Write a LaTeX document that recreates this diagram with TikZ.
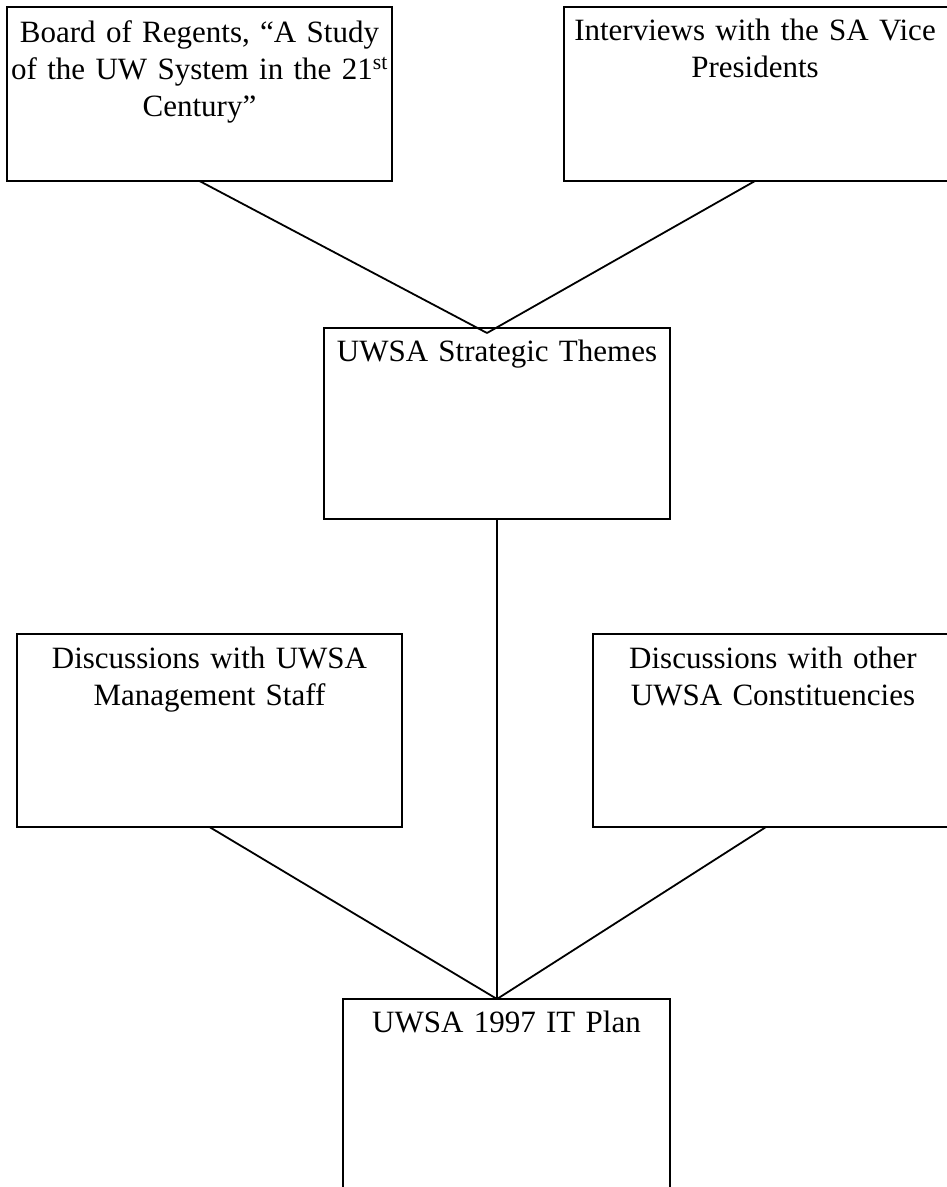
\documentclass[tikz,border=0pt]{standalone}
\usepackage{fontspec}
\setmainfont{Liberation Serif}
\hyphenpenalty=10000
\exhyphenpenalty=10000
\begin{document}
\begin{tikzpicture}[x=1pt,y=-1pt,
  box/.style={draw=black,line width=2pt,rectangle,inner sep=0pt,outer sep=0pt},
  lbl/.style={anchor=base,inner sep=0pt,align=center,text width=440pt,
    font=\fontsize{31}{37}\selectfont},
  link/.style={draw=black,line width=1.8pt}]
\useasboundingbox (0,0) rectangle (947,1187);
\clip (0,0) rectangle (947,1187);
% boxes
\node[box,minimum width=385pt,minimum height=174pt] (b1) at (199.5,94) {};
\node[box,minimum width=386pt,minimum height=174pt] (b2) at (757,94) {};
\node[box,minimum width=346pt,minimum height=191pt] (b3) at (497,423.5) {};
\node[box,minimum width=385pt,minimum height=193pt] (b4) at (209.5,730.5) {};
\node[box,minimum width=360pt,minimum height=193pt] (b5) at (773,730.5) {};
\node[box,minimum width=327pt,minimum height=201pt] (b6) at (506.5,1099.5) {};
% labels
\node[lbl] (t1) at ([yshift=-35pt]b1.north) {Board of Regents, “A Study\\of the UW System in the 21\textsuperscript{st}\\Century”};
\node[lbl] (t2) at ([yshift=-33pt,xshift=-2pt]b2.north) {Interviews with the SA Vice\\Presidents};
\node[lbl] (t3) at ([yshift=-33pt]b3.north) {UWSA Strategic Themes};
\node[lbl] (t4) at ([yshift=-34pt]b4.north) {Discussions with UWSA\\Management Staff};
\node[lbl] (t5) at ([yshift=-34pt]b5.north) {Discussions with other\\UWSA Constituencies};
\node[lbl] (t6) at ([yshift=-33pt]b6.north) {UWSA 1997 IT Plan};
% junctions
\coordinate (j1) at ([xshift=-10pt,yshift=-5pt]b3.north);
\coordinate (j2) at ([xshift=-9.5pt]b6.north);
% connectors
\draw[link] (b1.south) -- (j1);
\draw[link] ([xshift=-2pt]b2.south) -- (j1);
\draw[link] (b3.south) -- (j2);
\draw[link] (b4.south) -- (j2);
\draw[link] ([xshift=-7pt]b5.south) -- (j2);
\end{tikzpicture}
\end{document}
